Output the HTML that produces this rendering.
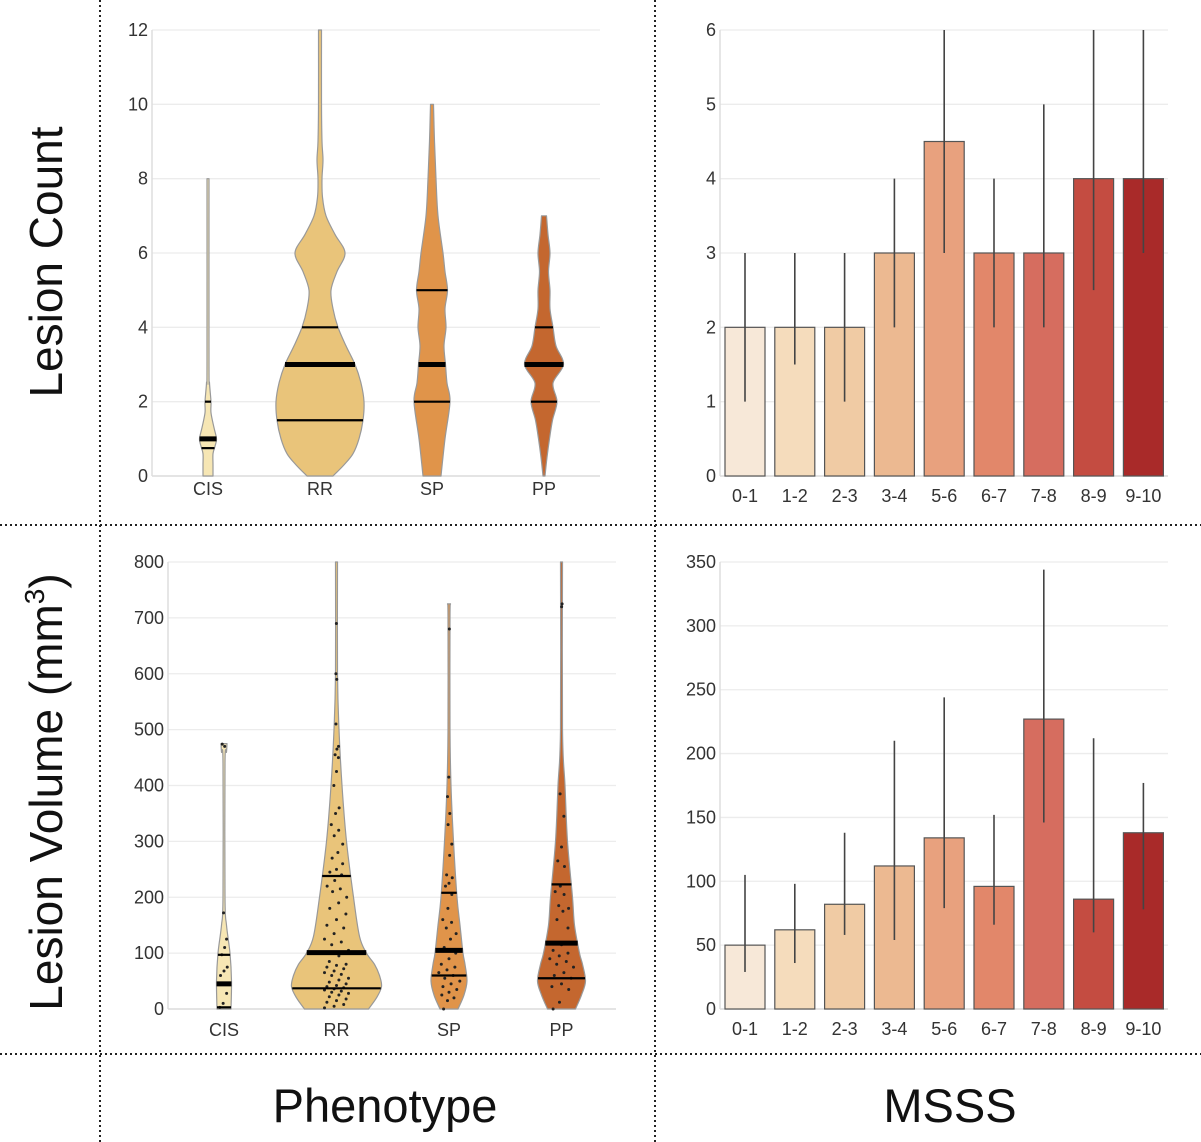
<!DOCTYPE html>
<html><head><meta charset="utf-8"><style>
html,body{margin:0;padding:0;background:#fff;}
svg{display:block;font-family:"Liberation Sans",sans-serif;}
.tick{font-size:18px;fill:#333;}
</style></head><body>
<svg id="fig" width="1201" height="1142" viewBox="0 0 1201 1142">
<g stroke="#222" stroke-width="2" stroke-dasharray="2,3">
<line x1="100" y1="0" x2="100" y2="1142"/><line x1="655" y1="0" x2="655" y2="1142"/>
<line x1="0" y1="525" x2="1201" y2="525"/><line x1="0" y1="1054" x2="1201" y2="1054"/>
</g>
<text transform="translate(62,262) rotate(-90)" text-anchor="middle" font-size="46" fill="#111">Lesion Count</text>
<text transform="translate(62,792) rotate(-90)" text-anchor="middle" font-size="46" fill="#111">Lesion Volume (mm<tspan font-size="28" dy="-18">3</tspan><tspan dy="18">)</tspan></text>
<text x="385" y="1122" text-anchor="middle" font-size="47" fill="#111">Phenotype</text>
<text x="950" y="1122" text-anchor="middle" font-size="47" fill="#111">MSSS</text>
<g id="p1"></g>
<g id="p2"></g>
<g id="p3"></g>
<g id="p4"></g>
</svg>
<script>
const phenos = ["CIS","RR","SP","PP"];
const violinColors = ["#f6e6b4","#e9c47a","#e0944a","#c4672f"];
const cntProfCIS = [[0,5],[0.3,5],[0.6,5],[0.8,7],[1,8.5],[1.3,6],[1.7,3],[2,3],[2.5,1.5],[3,1],[8,1]];
const cntProfRR = [[0,13],[0.3,24],[0.6,33],[1,39],[1.5,43],[2,44],[2.5,41],[3,35],[3.5,26],[4,18],[4.5,13],[5,11],[5.5,17],[6,25],[6.5,15],[7,6],[7.5,2.5],[8,2],[8.5,3],[9,2],[10,1.5],[12,1.5]];
const cntProfSP = [[0,9],[1,13],[2,18],[2.5,15],[3,13.5],[3.5,12],[4,14],[4.5,13],[5,15.5],[5.5,13],[6,11],[7,6],[8,4],[9,2.5],[10,1.5]];
const cntProfPP = [[0,1],[0.5,3],[1,5.5],[1.5,8.5],[2,13],[2.5,9],[3,19.5],[3.5,12],[4,9],[4.5,6],[5,6],[5.5,4.5],[6,6],[6.5,4],[7,2.5]];
const cntQuart = [[0.75,1,2],[1.5,3,4],[2,3,5],[2,3,4]];
const volProfCIS = [[0,7],[50,7.5],[100,6],[150,2.5],[200,1],[440,1],[460,2.5],[475,3]];
const volProfRR = [[0,32],[20,40],[40,45],[60,43],[80,38],[100,30],[130,23],[200,17],[300,10],[400,5.5],[500,2.5],[600,1],[800,1]];
const volProfSP = [[0,9],[25,15],[50,18],[80,16],[100,14],[150,11],[200,8],[300,4.5],[400,2],[500,1],[700,1],[725,1.5]];
const volProfPP = [[0,14],[25,20],[50,24],[80,21],[100,18],[150,13],[200,11],[300,6],[400,3.5],[500,1],[800,1]];
const volQuart = [[3,45,97],[37,101,238],[60,105,208],[55,118,223]];
const dotsCIS = [3,10,28,60,68,75,97,110,125,172,470,474];
const dotsRR = [2,5,8,12,15,18,22,25,28,30,32,34,36,38,40,42,45,48,52,55,60,62,65,68,72,75,78,80,85,95,105,115,120,125,135,145,150,160,170,180,190,200,210,215,220,230,240,245,250,260,270,280,295,310,320,330,350,360,400,425,450,455,465,470,510,590,600,690];
const dotsSP = [0,15,20,25,30,35,40,45,50,55,60,65,70,75,80,90,100,110,125,135,145,155,160,180,205,220,225,235,240,275,295,330,350,380,415,680];
const dotsPP = [0,12,35,40,45,55,60,65,75,80,85,90,95,100,105,115,145,160,175,180,185,205,210,220,255,265,290,345,385,720,725];
const msss = ["0-1","1-2","2-3","3-4","5-6","6-7","7-8","8-9","9-10"];
const barColors = ["#f7e8d8","#f5dcbc","#f0cba4","#ecb991","#e8a17e","#e2876a","#d66d5f","#c44c41","#a92a29"];
const cntMean = [2,2,2,3,4.5,3,3,4,4];
const cntLo = [1,1.5,1,2,3,2,2,2.5,3];
const cntHi = [3,3,3,4,6,4,5,6,6];
const volMean = [50,62,82,112,134,96,227,86,138];
const volLo = [29,36,58,54,79,66,146,60,78];
const volHi = [105,98,138,210,244,152,344,212,177];
const cntTicks = [0,2,4,6,8,10,12];
const cntBarTicks = [0,1,2,3,4,5,6];
const volTicks = [0,100,200,300,400,500,600,700,800];
const volBarTicks = [0,50,100,150,200,250,300,350];

const NS="http://www.w3.org/2000/svg";
function mk(parent,tag,attrs){const e=document.createElementNS(NS,tag);for(const k in attrs)e.setAttribute(k,attrs[k]);parent.appendChild(e);return e;}
function lin(d0,d1,r0,r1){return v=>r0+(v-d0)*(r1-r0)/(d1-d0);}

function axes(g,x0,x1,y,ticks,labelX){
  ticks.forEach(t=>{
    const yy=y(t);
    const l=mk(g,"line",{x1:x0,x2:x1,y1:yy,y2:yy,stroke:"#ececec","stroke-width":1.3});
    
    
    const tx=mk(g,"text",{x:labelX,y:yy+6,"text-anchor":"end",class:"tick"});
    tx.textContent=t;
    
    
  });
  const a=mk(g,"line",{x1:x0,x2:x0,y1:y(ticks[ticks.length-1]),y2:y(0),stroke:"#ddd","stroke-width":1.5});
  
  
  const b=mk(g,"line",{x1:x0,x2:x1,y1:y(0),y2:y(0),stroke:"#ddd","stroke-width":1.5});
  
  
}
function halfAt(prof,v){
  for(let i=0;i<prof.length-1;i++){if(v>=prof[i][0]&&v<=prof[i+1][0]){const t=(v-prof[i][0])/(prof[i+1][0]-prof[i][0]);return prof[i][1]+t*(prof[i+1][1]-prof[i][1]);}}
  return prof[prof.length-1][1];
}
function smooth(pts){
  let d="M"+pts[0][0]+","+pts[0][1];
  for(let i=0;i<pts.length-1;i++){
    const p0=pts[Math.max(0,i-1)],p1=pts[i],p2=pts[i+1],p3=pts[Math.min(pts.length-1,i+2)];
    const c1=[p1[0]+(p2[0]-p0[0])/6,p1[1]+(p2[1]-p0[1])/6];
    const c2=[p2[0]-(p3[0]-p1[0])/6,p2[1]-(p3[1]-p1[1])/6];
    d+=" C"+c1[0]+","+c1[1]+" "+c2[0]+","+c2[1]+" "+p2[0]+","+p2[1];
  }
  return d;
}
function violins(g,profs,quarts,dots,y,cx0,step,xlabY){
  profs.forEach((prof,i)=>{
    const cx=cx0+i*step;
    const right=prof.map(p=>[cx+p[1],y(p[0])]);
    const left=prof.slice().reverse().map(p=>[cx-p[1],y(p[0])]);
    const d=smooth(right)+" L"+left[0][0]+","+left[0][1]+smooth(left).replace(/^M[^ C]+/,"")+" Z";
    const pg=mk(g,"path",{d:d,fill:violinColors[i],stroke:"#999","stroke-width":1.2,"stroke-linejoin":"round"});
    
    
    if(dots){dots[i].forEach((v,j)=>{
      const w=Math.min(halfAt(prof,v)*0.6,12);const off=((j*37)%11-5)/5*w;
      const c=mk(g,"circle",{cx:cx+off,cy:y(v),r:1.5,fill:"#222"});
      
      
    });}
    quarts[i].forEach((q,k)=>{
      const w=halfAt(prof,q);
      const l=mk(g,"line",{x1:cx-w,x2:cx+w,y1:y(q),y2:y(q),stroke:"#000","stroke-width":k==1?5:2.2});
      
      
    });
    const t=mk(g,"text",{x:cx,y:xlabY,"text-anchor":"middle",class:"tick"});
    t.textContent=phenos[i];
    
    
  });
}
function bars(g,mean,lo,hi,y,cx0,step,xlabY){
  mean.forEach((m,i)=>{
    const cx=cx0+i*step;
    const r=mk(g,"rect",{x:cx-20,y:y(m),width:40,height:y(0)-y(m),fill:barColors[i],stroke:"#555","stroke-width":1.2});
    
    
    const e=mk(g,"line",{x1:cx,x2:cx,y1:y(lo[i]),y2:y(hi[i]),stroke:"#444","stroke-width":1.6});
    
    
    const t=mk(g,"text",{x:cx,y:xlabY,"text-anchor":"middle",class:"tick"});
    t.textContent=msss[i];
    
    
  });
}
const g1=document.getElementById("p1"),g2=document.getElementById("p2"),g3=document.getElementById("p3"),g4=document.getElementById("p4");
const y1=lin(0,12,476,30); axes(g1,152,600,y1,cntTicks,148);
violins(g1,[cntProfCIS,cntProfRR,cntProfSP,cntProfPP],cntQuart,null,y1,208,112,495);
const y2=lin(0,6,476,30); axes(g2,720,1168,y2,cntBarTicks,716);
bars(g2,cntMean,cntLo,cntHi,y2,745,49.8,502);
const y3=lin(0,800,1009,562); axes(g3,168,616,y3,volTicks,164);
violins(g3,[volProfCIS,volProfRR,volProfSP,volProfPP],volQuart,[dotsCIS,dotsRR,dotsSP,dotsPP],y3,224,112.5,1036);
const y4=lin(0,350,1009,562); axes(g4,720,1168,y4,volBarTicks,716);
bars(g4,volMean,volLo,volHi,y4,745,49.8,1035);
</script>
</body></html>
